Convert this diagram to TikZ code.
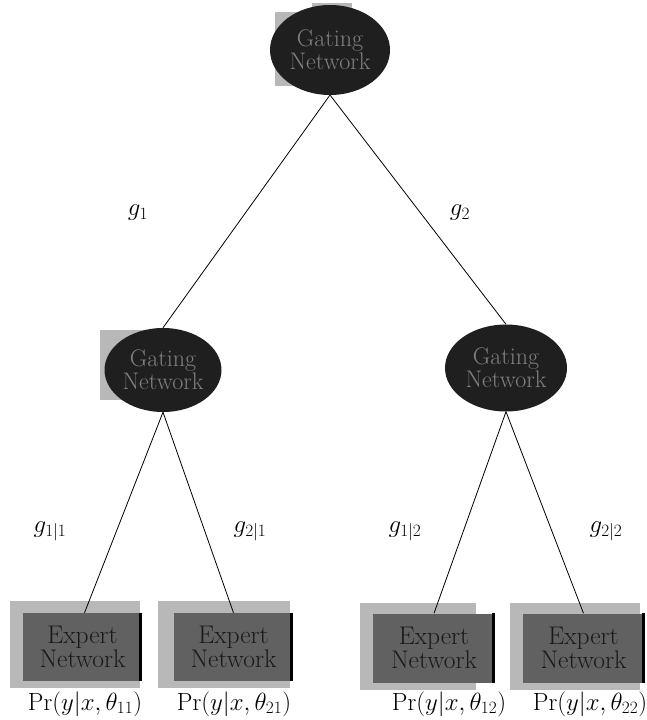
\documentclass[tikz,border=0pt]{standalone}
\usetikzlibrary{shapes.geometric}
\begin{document}
\begin{tikzpicture}[x=1pt,y=-1pt,
  gate/.style={ellipse, fill=black!88, inner sep=0pt, text=black!50, align=center, font=\fontsize{24}{23}\selectfont},
  expert/.style={rectangle, fill=black!62, inner sep=0pt, text=black!90, align=center, font=\fontsize{25.5}{24}\selectfont},
  shadow/.style={fill=black!28},
  conn/.style={draw=black, line width=0.8pt},
  lab/.style={font=\fontsize{24}{24}\selectfont},
  plab/.style={font=\fontsize{25}{24}\selectfont}
]
\useasboundingbox (0,0) rectangle (646,720);
% shadows
\fill[shadow] (275,12) rectangle (350,86);
\fill[shadow] (312,3) rectangle (352,12);
\fill[shadow] (100,330) rectangle (150,400);
\fill[shadow] (10,601) rectangle (140,688);
\fill[shadow] (158,601) rectangle (290,688);
\fill[shadow] (360,603) rectangle (476,690);
\fill[shadow] (510,603) rectangle (640,690);
% gating nodes
\node[gate, minimum width=120, minimum height=90] (g0) at (330,50) {Gating\\Network};
\node[gate, minimum width=117, minimum height=84] (gl) at (163,370) {Gating\\Network};
\node[gate, minimum width=122, minimum height=87] (gr) at (506,368) {Gating\\Network};
% experts
\node[expert, minimum width=119, minimum height=68] (e11) at (82.5,647) {Expert\\Network};
\node[expert, minimum width=119, minimum height=68] (e21) at (233.5,647) {Expert\\Network};
\node[expert, minimum width=122, minimum height=69] (e12) at (434,648) {Expert\\Network};
\node[expert, minimum width=122, minimum height=69] (e22) at (583.5,648) {Expert\\Network};
\foreach \n in {e11,e21,e12,e22}{
  \draw[line width=3pt] ([xshift=-1.5]\n.north east) -- ([xshift=-1.5]\n.south east);
}
% connectors
\coordinate (g0b) at (330,95);
\draw[conn] (g0b) -- (gl.north);
\draw[conn] (g0b) -- (gr.north);
\draw[conn] (gl.south) -- ([xshift=2]e11.north);
\draw[conn] (gl.south) -- (e21.north);
\draw[conn] (gr.south) -- (e12.north);
\draw[conn] (gr.south) -- (e22.north);
% gating labels
\node[lab] (l1) at (138,213) {$g_1$};
\node[lab] (l2) at (460,213) {$g_2$};
\node[lab] (l11) at (50,531) {$g_{1|1}$};
\node[lab] (l21) at (250,531) {$g_{2|1}$};
\node[lab] (l12) at (405,531) {$g_{1|2}$};
\node[lab] (l22) at (606,531) {$g_{2|2}$};
% output labels
\node[plab] (p11) at (85,704) {$\Pr(y|x,\theta_{11})$};
\node[plab] (p21) at (234,704) {$\Pr(y|x,\theta_{21})$};
\node[plab] (p12) at (449,704) {$\Pr(y|x,\theta_{12})$};
\node[plab] (p22) at (590,704) {$\Pr(y|x,\theta_{22})$};
\end{tikzpicture}
\end{document}
